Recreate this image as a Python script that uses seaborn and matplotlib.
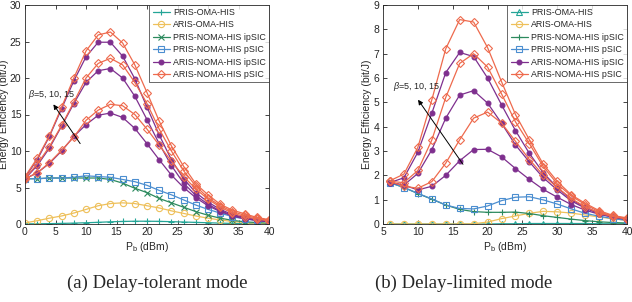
import numpy as np
import pandas as pd
import matplotlib
matplotlib.use("Agg")
import matplotlib.pyplot as plt
import seaborn as sns

# --- dados ---
pb_a = list(range(0, 41, 2))
pb_b = list(range(6, 41, 2))

# (a) modo tolerante a atraso
a_pris_oma = [0.02, 0.03, 0.05, 0.08, 0.12, 0.17, 0.23, 0.3, 0.35, 0.38, 0.38,
              0.36, 0.32, 0.27, 0.22, 0.17, 0.12, 0.08, 0.05, 0.03, 0.02]
a_aris_oma = [0.15, 0.45, 0.8, 1.1, 1.5, 2.0, 2.5, 2.8, 2.9, 2.8, 2.5,
              2.2, 1.8, 1.45, 1.1, 0.8, 0.55, 0.35, 0.2, 0.1, 0.05]
a_pris_noma_ipsic = [6.2, 6.2, 6.3, 6.3, 6.3, 6.3, 6.3, 6.1, 5.6, 4.9, 4.3,
                     3.5, 2.9, 2.3, 1.7, 1.2, 0.8, 0.5, 0.3, 0.2, 0.1]
a_pris_noma_psic = [6.2, 6.2, 6.3, 6.3, 6.4, 6.6, 6.5, 6.4, 6.1, 5.8, 5.3,
                    4.6, 4.0, 3.3, 2.6, 2.0, 1.5, 1.0, 0.7, 0.5, 0.3]
a_aris_ipsic = {
    5: [6.2, 7.0, 8.3, 10.0, 12.0, 13.6, 14.9, 15.2, 14.6, 13.1, 11.0,
        8.8, 6.7, 5.0, 3.6, 2.5, 1.7, 1.1, 0.7, 0.5, 0.3],
    10: [6.2, 8.0, 10.4, 13.4, 16.5, 19.4, 21.0, 21.3, 20.0, 17.5, 14.3,
         11.0, 8.0, 5.6, 3.9, 2.7, 1.8, 1.2, 0.8, 0.5, 0.3],
    15: [6.4, 8.8, 12.0, 15.8, 19.6, 22.9, 24.9, 24.9, 23.0, 19.9, 16.0,
         12.2, 8.8, 6.2, 4.3, 3.0, 2.0, 1.3, 0.9, 0.6, 0.4],
}
a_aris_psic = {
    5: [6.2, 7.0, 8.4, 10.1, 11.9, 14.2, 15.6, 16.4, 16.2, 15.0, 13.0,
        10.8, 8.6, 6.5, 4.8, 3.4, 2.3, 1.5, 1.0, 0.7, 0.4],
    10: [6.3, 8.2, 10.6, 13.5, 16.7, 20.0, 22.0, 22.7, 21.8, 19.4, 16.5,
         13.0, 10.0, 7.3, 5.2, 3.6, 2.5, 1.7, 1.2, 0.8, 0.5],
    15: [6.5, 9.0, 12.1, 16.0, 20.0, 23.7, 25.9, 26.3, 24.8, 21.8, 18.0,
         14.1, 10.7, 7.9, 5.5, 4.0, 2.7, 1.9, 1.4, 0.9, 0.6],
}

# (b) modo limitado por atraso
b_pris_oma = [0.0, 0.0, 0.0, 0.0, 0.0, 0.0, 0.0, 0.0, 0.01, 0.01, 0.02,
              0.02, 0.02, 0.02, 0.02, 0.01, 0.01, 0.01]
b_aris_oma = [0.0, 0.0, 0.0, 0.0, 0.0, 0.0, 0.01, 0.08, 0.22, 0.33, 0.44,
              0.52, 0.5, 0.45, 0.37, 0.29, 0.21, 0.15]
b_pris_noma_ipsic = [1.7, 1.5, 1.25, 1.02, 0.78, 0.6, 0.51, 0.48, 0.48, 0.49,
                     0.43, 0.34, 0.27, 0.2, 0.14, 0.09, 0.06, 0.04]
b_pris_noma_psic = [1.7, 1.5, 1.26, 1.03, 0.78, 0.64, 0.62, 0.74, 0.96, 1.1,
                    1.12, 0.99, 0.82, 0.62, 0.44, 0.32, 0.22, 0.15]
b_aris_ipsic = {
    5: [1.7, 1.6, 1.4, 1.55, 2.0, 2.6, 3.06, 3.07, 2.76, 2.28, 1.83, 1.42,
        1.1, 0.8, 0.57, 0.4, 0.28, 0.2],
    10: [1.7, 1.6, 2.08, 3.05, 4.35, 5.3, 5.48, 4.97, 4.14, 3.25, 2.55, 1.9,
         1.4, 0.95, 0.65, 0.42, 0.28, 0.18],
    15: [1.7, 1.9, 2.95, 4.55, 6.22, 7.05, 6.88, 6.0, 4.9, 3.84, 2.9, 2.1,
         1.5, 1.0, 0.7, 0.45, 0.3, 0.2],
}
b_aris_psic = {
    5: [1.75, 1.55, 1.47, 1.74, 2.5, 3.46, 4.35, 4.6, 4.15, 3.4, 2.65, 2.0,
        1.5, 1.05, 0.7, 0.45, 0.3, 0.2],
    10: [1.75, 1.7, 2.2, 3.45, 5.2, 6.6, 7.0, 6.45, 5.35, 4.2, 3.3, 2.35,
         1.65, 1.15, 0.8, 0.5, 0.33, 0.22],
    15: [1.78, 2.05, 3.15, 5.1, 7.2, 8.4, 8.3, 7.25, 5.85, 4.5, 3.46, 2.45,
         1.75, 1.2, 0.85, 0.55, 0.35, 0.25],
}

# --- cores e estilos ---
C_PRIS_OMA = '#24a597'
C_ARIS_OMA = '#eec05a'
C_PRIS_IPSIC = '#2c8a5e'
C_PRIS_PSIC = '#4b8ed0'
C_ARIS_IPSIC = '#7e2f8e'
C_ARIS_PSIC = '#ee6a4d'

sns.set_style("ticks")
plt.rcParams['font.family'] = ['Liberation Sans', 'DejaVu Sans']
plt.rcParams['mathtext.fontset'] = 'custom'
plt.rcParams['mathtext.it'] = 'Liberation Sans:italic'
plt.rcParams['mathtext.rm'] = 'Liberation Sans'

fig = plt.figure(figsize=(6.32, 3.02), dpi=100)
ax_a = fig.add_axes([25 / 632, 78 / 302, 244 / 632, 219 / 302])
ax_b = fig.add_axes([383 / 632, 78 / 302, 244 / 632, 219 / 302])


def curva(ax, x, y, cor, marcador, rotulo=None, cheio=False, ms=4.5):
    sns.lineplot(x=x, y=y, ax=ax, color=cor, marker=marcador, markersize=ms,
                 markerfacecolor=cor if cheio else 'none', markeredgecolor=cor,
                 markeredgewidth=0.8, linewidth=0.9, label=rotulo)


# (a)
curva(ax_a, pb_a, a_pris_oma, C_PRIS_OMA, '+', 'PRIS-OMA-HIS', ms=5)
curva(ax_a, pb_a, a_aris_oma, C_ARIS_OMA, 'o', 'ARIS-OMA-HIS')
curva(ax_a, pb_a, a_pris_noma_ipsic, C_PRIS_IPSIC, 'x', 'PRIS-NOMA-HIS ipSIC', ms=4)
curva(ax_a, pb_a, a_pris_noma_psic, C_PRIS_PSIC, 's', 'PRIS-NOMA-HIS pSIC', ms=4)
for i, beta in enumerate([5, 10, 15]):
    curva(ax_a, pb_a, a_aris_ipsic[beta], C_ARIS_IPSIC, 'o',
          'ARIS-NOMA-HIS ipSIC' if i == 0 else None, cheio=True, ms=3.5)
for i, beta in enumerate([5, 10, 15]):
    curva(ax_a, pb_a, a_aris_psic[beta], C_ARIS_PSIC, 'D',
          'ARIS-NOMA-HIS pSIC' if i == 0 else None, ms=4.5)

# (b)
curva(ax_b, pb_b, b_pris_oma, C_PRIS_OMA, '^', 'PRIS-OMA-HIS', ms=4.5)
curva(ax_b, pb_b, b_aris_oma, C_ARIS_OMA, 'o', 'ARIS-OMA-HIS')
curva(ax_b, pb_b, b_pris_noma_ipsic, C_PRIS_IPSIC, '+', 'PRIS-NOMA-HIS ipSIC', ms=5)
curva(ax_b, pb_b, b_pris_noma_psic, C_PRIS_PSIC, 's', 'PRIS-NOMA-HIS pSIC', ms=4)
for i, beta in enumerate([5, 10, 15]):
    curva(ax_b, pb_b, b_aris_ipsic[beta], C_ARIS_IPSIC, 'o',
          'ARIS-NOMA-HIS ipSIC' if i == 0 else None, cheio=True, ms=3.5)
for i, beta in enumerate([5, 10, 15]):
    curva(ax_b, pb_b, b_aris_psic[beta], C_ARIS_PSIC, 'D',
          'ARIS-NOMA-HIS pSIC' if i == 0 else None, ms=4.5)

# eixos
for ax, xlim, ylim, xt, yt in [(ax_a, (0, 40), (0, 30), range(0, 41, 5), range(0, 31, 5)),
                               (ax_b, (5, 40), (0, 9), range(5, 41, 5), range(0, 10, 1))]:
    ax.set_xlim(*xlim)
    ax.set_ylim(*ylim)
    ax.set_xticks(list(xt))
    ax.set_yticks(list(yt))
    ax.tick_params(direction='in', length=3, width=0.6, labelsize=7.5,
                   colors='#262626', top=True, right=True, pad=2.5)
    for s in ax.spines.values():
        s.set_linewidth(0.6)
        s.set_color('#262626')
    ax.set_xlabel(r'P$_\mathrm{b}$ (dBm)', fontsize=7.5, labelpad=2)
    ax.set_ylabel('Energy Efficiency (bit/J)', fontsize=7.5, labelpad=1)
    leg = ax.legend(loc='upper right', fontsize=6.4, frameon=True, fancybox=False,
                    edgecolor='#262626', borderaxespad=0, handlelength=2.0,
                    labelspacing=0.38, borderpad=0.35, handletextpad=0.3)
    leg.get_frame().set_linewidth(0.6)

# anotações de beta
ax_a.annotate('', xy=(4.4, 16.7), xytext=(9.3, 10.7),
              arrowprops=dict(arrowstyle='-|>', color='black', lw=0.7,
                              mutation_scale=7))
ax_a.text(0.5, 17.8, r'$\beta$=5, 10, 15', fontsize=6.5, va='center', ha='left')
ax_b.annotate('', xy=(9.8, 5.2), xytext=(16.7, 2.36),
              arrowprops=dict(arrowstyle='-|>', color='black', lw=0.7,
                              mutation_scale=7))
ax_b.text(6.5, 5.64, r'$\beta$=5, 10, 15', fontsize=6.5, va='center', ha='left')

# legendas das subfiguras
fig.text(157 / 632, 1 - 283 / 302, '(a) Delay-tolerant mode', ha='center',
         va='center', fontsize=13.5, family=['Liberation Serif', 'DejaVu Serif'])
fig.text(464 / 632, 1 - 283 / 302, '(b) Delay-limited mode', ha='center',
         va='center', fontsize=13.5, family=['Liberation Serif', 'DejaVu Serif'])

fig.savefig('out.png', dpi=100, facecolor='white')
